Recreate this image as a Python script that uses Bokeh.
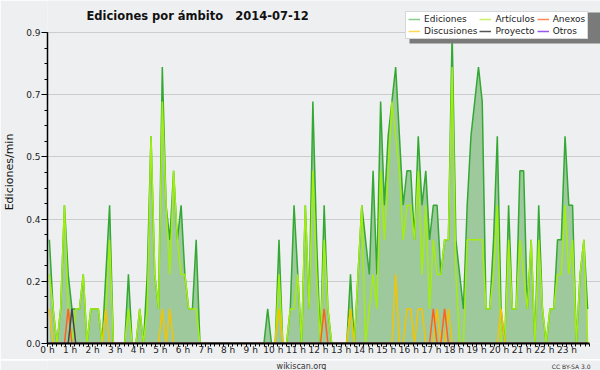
from bokeh.plotting import figure
from bokeh.layouts import column
from bokeh.models import FixedTicker, Label, Legend, LegendItem, BoxAnnotation, Range1d
from bokeh.embed import file_html
from bokeh.resources import INLINE

# ---- data: edits per minute, 10-minute bins over 2014-07-12 (rows = 2 hours) ----
ediciones = [
    0.3, 0.1, 0.0, 0.1, 0.4, 0.2, 0.1, 0.1, 0.1, 0.2, 0.0, 0.1,
    0.1, 0.1, 0.0, 0.2, 0.4, 0.0, 0.0, 0.0, 0.0, 0.2, 0.0, 0.0,
    0.1, 0.0, 0.2, 0.6, 0.2, 0.1, 0.8, 0.4, 0.3, 0.5, 0.3, 0.4,
    0.2, 0.1, 0.1, 0.3, 0.0, 0.0, 0.0, 0.0, 0.0, 0.0, 0.0, 0.0,
    0.0, 0.0, 0.0, 0.0, 0.0, 0.0, 0.0, 0.0, 0.0, 0.0, 0.1, 0.0,
    0.0, 0.3, 0.0, 0.0, 0.1, 0.4, 0.2, 0.0, 0.4, 0.1, 0.7, 0.3,
    0.0, 0.4, 0.1, 0.0, 0.0, 0.0, 0.0, 0.0, 0.2, 0.0, 0.2, 0.4,
    0.3, 0.2, 0.5, 0.2, 0.7, 0.4, 0.6, 0.7, 0.8, 0.6, 0.4, 0.5,
    0.5, 0.3, 0.6, 0.4, 0.5, 0.3, 0.4, 0.4, 0.2, 0.3, 0.3, 0.9,
    0.3, 0.2, 0.1, 0.4, 0.6, 0.7, 0.8, 0.7, 0.1, 0.1, 0.3, 0.6,
    0.1, 0.0, 0.4, 0.1, 0.1, 0.5, 0.5, 0.1, 0.3, 0.0, 0.4, 0.1,
    0.0, 0.1, 0.1, 0.3, 0.3, 0.6, 0.4, 0.4, 0.0, 0.2, 0.3, 0.1,
]
articulos = [
    0.2, 0.1, 0.0, 0.1, 0.4, 0.1, 0.0, 0.1, 0.1, 0.2, 0.0, 0.1,
    0.1, 0.1, 0.0, 0.1, 0.3, 0.0, 0.0, 0.0, 0.0, 0.1, 0.0, 0.0,
    0.1, 0.0, 0.1, 0.6, 0.2, 0.1, 0.7, 0.4, 0.2, 0.5, 0.3, 0.2,
    0.2, 0.1, 0.1, 0.1, 0.0, 0.0, 0.0, 0.0, 0.0, 0.0, 0.0, 0.0,
    0.0, 0.0, 0.0, 0.0, 0.0, 0.0, 0.0, 0.0, 0.0, 0.0, 0.0, 0.0,
    0.0, 0.2, 0.0, 0.0, 0.1, 0.1, 0.2, 0.0, 0.4, 0.1, 0.5, 0.2,
    0.0, 0.3, 0.1, 0.0, 0.0, 0.0, 0.0, 0.0, 0.1, 0.0, 0.2, 0.4,
    0.0, 0.1, 0.2, 0.1, 0.5, 0.3, 0.5, 0.7, 0.6, 0.5, 0.3, 0.4,
    0.4, 0.3, 0.5, 0.2, 0.4, 0.1, 0.3, 0.2, 0.2, 0.3, 0.3, 0.8,
    0.2, 0.0, 0.0, 0.3, 0.3, 0.3, 0.3, 0.3, 0.1, 0.1, 0.2, 0.4,
    0.0, 0.0, 0.3, 0.1, 0.1, 0.3, 0.2, 0.1, 0.3, 0.0, 0.3, 0.1,
    0.0, 0.1, 0.1, 0.2, 0.2, 0.4, 0.2, 0.3, 0.0, 0.2, 0.3, 0.0,
]
discusiones = [
    0.1, 0.0, 0.0, 0.0, 0.0, 0.0, 0.0, 0.0, 0.0, 0.0, 0.0, 0.0,
    0.0, 0.0, 0.0, 0.1, 0.0, 0.0, 0.0, 0.0, 0.0, 0.0, 0.0, 0.0,
    0.0, 0.0, 0.0, 0.0, 0.0, 0.0, 0.1, 0.0, 0.1, 0.0, 0.0, 0.0,
    0.0, 0.0, 0.0, 0.0, 0.0, 0.0, 0.0, 0.0, 0.0, 0.0, 0.0, 0.0,
    0.0, 0.0, 0.0, 0.0, 0.0, 0.0, 0.0, 0.0, 0.0, 0.0, 0.0, 0.0,
    0.0, 0.1, 0.0, 0.0, 0.0, 0.0, 0.0, 0.0, 0.0, 0.0, 0.0, 0.0,
    0.0, 0.0, 0.0, 0.0, 0.0, 0.0, 0.0, 0.0, 0.1, 0.0, 0.0, 0.0,
    0.0, 0.0, 0.0, 0.0, 0.0, 0.0, 0.0, 0.0, 0.2, 0.0, 0.0, 0.1,
    0.1, 0.0, 0.1, 0.1, 0.0, 0.0, 0.0, 0.1, 0.0, 0.0, 0.1, 0.0,
    0.0, 0.0, 0.0, 0.0, 0.0, 0.0, 0.0, 0.0, 0.0, 0.0, 0.0, 0.0,
    0.1, 0.0, 0.0, 0.0, 0.0, 0.0, 0.0, 0.0, 0.0, 0.0, 0.0, 0.0,
    0.0, 0.0, 0.0, 0.0, 0.0, 0.0, 0.0, 0.0, 0.0, 0.0, 0.0, 0.0,
]
anexos = [
    0.0, 0.0, 0.0, 0.0, 0.0, 0.1, 0.0, 0.0, 0.0, 0.0, 0.0, 0.0,
    0.0, 0.0, 0.0, 0.0, 0.0, 0.0, 0.0, 0.0, 0.0, 0.0, 0.0, 0.0,
    0.0, 0.0, 0.0, 0.0, 0.0, 0.0, 0.0, 0.0, 0.0, 0.0, 0.0, 0.0,
    0.0, 0.0, 0.0, 0.0, 0.0, 0.0, 0.0, 0.0, 0.0, 0.0, 0.0, 0.0,
    0.0, 0.0, 0.0, 0.0, 0.0, 0.0, 0.0, 0.0, 0.0, 0.0, 0.0, 0.0,
    0.0, 0.0, 0.0, 0.0, 0.0, 0.0, 0.0, 0.0, 0.0, 0.0, 0.0, 0.0,
    0.0, 0.1, 0.0, 0.0, 0.0, 0.0, 0.0, 0.0, 0.0, 0.0, 0.0, 0.0,
    0.0, 0.0, 0.0, 0.0, 0.0, 0.0, 0.0, 0.0, 0.0, 0.0, 0.0, 0.0,
    0.0, 0.0, 0.0, 0.0, 0.0, 0.0, 0.1, 0.0, 0.0, 0.1, 0.0, 0.0,
    0.0, 0.0, 0.0, 0.0, 0.0, 0.0, 0.0, 0.0, 0.0, 0.0, 0.0, 0.0,
    0.0, 0.0, 0.0, 0.0, 0.0, 0.0, 0.0, 0.0, 0.0, 0.0, 0.0, 0.0,
    0.0, 0.0, 0.0, 0.0, 0.0, 0.0, 0.0, 0.0, 0.0, 0.0, 0.0, 0.0,
]
proyecto = [
    0.0, 0.0, 0.0, 0.0, 0.0, 0.0, 0.1, 0.0, 0.0, 0.0, 0.0, 0.0,
    0.0, 0.0, 0.0, 0.0, 0.0, 0.0, 0.0, 0.0, 0.0, 0.0, 0.0, 0.0,
    0.0, 0.0, 0.0, 0.0, 0.0, 0.0, 0.0, 0.0, 0.0, 0.0, 0.0, 0.0,
    0.0, 0.0, 0.0, 0.0, 0.0, 0.0, 0.0, 0.0, 0.0, 0.0, 0.0, 0.0,
    0.0, 0.0, 0.0, 0.0, 0.0, 0.0, 0.0, 0.0, 0.0, 0.0, 0.0, 0.0,
    0.0, 0.0, 0.0, 0.0, 0.0, 0.0, 0.0, 0.0, 0.0, 0.0, 0.0, 0.0,
    0.0, 0.0, 0.0, 0.0, 0.0, 0.0, 0.0, 0.0, 0.0, 0.0, 0.0, 0.0,
    0.0, 0.0, 0.0, 0.0, 0.0, 0.0, 0.0, 0.0, 0.0, 0.0, 0.0, 0.0,
    0.0, 0.0, 0.0, 0.0, 0.0, 0.0, 0.0, 0.0, 0.0, 0.0, 0.0, 0.0,
    0.0, 0.0, 0.0, 0.0, 0.0, 0.0, 0.0, 0.0, 0.0, 0.0, 0.0, 0.0,
    0.0, 0.0, 0.0, 0.0, 0.0, 0.0, 0.0, 0.0, 0.0, 0.0, 0.0, 0.0,
    0.0, 0.0, 0.0, 0.0, 0.0, 0.0, 0.0, 0.0, 0.0, 0.0, 0.0, 0.0,
]
otros = [
    0.0, 0.0, 0.0, 0.0, 0.0, 0.0, 0.0, 0.0, 0.0, 0.0, 0.0, 0.0,
    0.0, 0.0, 0.0, 0.0, 0.0, 0.0, 0.0, 0.0, 0.0, 0.0, 0.0, 0.0,
    0.0, 0.0, 0.0, 0.0, 0.0, 0.0, 0.0, 0.0, 0.0, 0.0, 0.0, 0.0,
    0.0, 0.0, 0.0, 0.0, 0.0, 0.0, 0.0, 0.0, 0.0, 0.0, 0.0, 0.0,
    0.0, 0.0, 0.0, 0.0, 0.0, 0.0, 0.0, 0.0, 0.0, 0.0, 0.0, 0.0,
    0.0, 0.0, 0.0, 0.0, 0.0, 0.0, 0.0, 0.0, 0.0, 0.0, 0.0, 0.0,
    0.0, 0.0, 0.0, 0.0, 0.0, 0.0, 0.0, 0.0, 0.0, 0.0, 0.0, 0.0,
    0.0, 0.0, 0.0, 0.0, 0.0, 0.0, 0.0, 0.0, 0.0, 0.0, 0.0, 0.0,
    0.0, 0.0, 0.0, 0.0, 0.0, 0.0, 0.0, 0.0, 0.0, 0.0, 0.0, 0.0,
    0.0, 0.0, 0.0, 0.0, 0.0, 0.0, 0.0, 0.0, 0.0, 0.0, 0.0, 0.0,
    0.0, 0.0, 0.0, 0.0, 0.0, 0.0, 0.0, 0.0, 0.0, 0.0, 0.0, 0.0,
    0.0, 0.0, 0.0, 0.0, 0.0, 0.0, 0.0, 0.0, 0.0, 0.0, 0.0, 0.0,
]
# bin centres in hours (10-minute bins)
horas = [(10 * i + 5) / 60 for i in range(len(ediciones))]

hour_ticks = list(range(24))
hour_labels = [f"{h} h" for h in hour_ticks]
y_ticks = [0.0, 0.18, 0.36, 0.54, 0.72, 0.9]
y_labels = ["0.0", "0.2", "0.4", "0.5", "0.7", "0.9"]

FONT = "DejaVu Sans"
BG = "#eeeff1"

# ---- geometry (page pixels) ----
W = 600
H_MAIN = 359
H_FOOT = 370 - H_MAIN
FRAME_L, FRAME_B = 46, 343          # frame spans x 46..600, y 0..343
X0_PX, X24_PX = 46, 589             # where 0 h and 24 h sit
Y0_PX, Y09_PX = 343, 32             # where 0.0 and 0.9 sit
x_end = 24 * (W - X0_PX) / (X24_PX - X0_PX)
y_end = 0.9 * (Y0_PX - 0) / (Y0_PX - Y09_PX)

def sx(px):
    return px - FRAME_L

def sy(py):
    return FRAME_B - py

p = figure(width=W, height=H_MAIN, output_backend="svg", toolbar_location=None,
           title=None, x_range=Range1d(0, x_end), y_range=Range1d(0, y_end),
           min_border_left=FRAME_L, min_border_right=0,
           min_border_top=0, min_border_bottom=H_MAIN - FRAME_B,
           background_fill_color=BG, border_fill_color=BG,
           outline_line_color=None)

# fill + lines
p.varea(x=horas, y1=0, y2=ediciones, fill_color="#9ec99c", fill_alpha=1.0)
p.line(horas, ediciones, line_color="#33a833", line_width=1.5)
p.line(horas, articulos, line_color="#a2ee10", line_width=1.5)
p.line(horas, discusiones, line_color="#f5c400", line_width=1.5)
p.line(horas, anexos, line_color="#ff6020", line_width=1.5)
p.line(horas, proyecto, line_color="#444444", line_width=1.5)
p.line(horas, otros, line_color="#8844ee", line_width=1.5)

# axes
xa = p.xaxis[0]
xa.bounds = (0, 24)
xa.ticker = FixedTicker(ticks=hour_ticks, minor_ticks=[k / 5 for k in range(121)])
xa.major_label_overrides = dict(zip(hour_ticks, hour_labels))
xa.major_tick_out = 3
xa.major_tick_in = 0
xa.minor_tick_out = 3
xa.minor_tick_in = 0
xa.axis_line_width = 2
xa.axis_line_color = "black"
xa.major_tick_line_color = "black"
xa.minor_tick_line_color = "black"
xa.major_label_text_font = FONT
xa.major_label_text_font_size = "9px"
xa.major_label_text_color = "#222222"
xa.major_label_standoff = -2

ya = p.yaxis[0]
ya.bounds = (0, 0.9)
ya.ticker = FixedTicker(ticks=y_ticks, minor_ticks=[k * 0.045 for k in range(21)])
ya.major_label_overrides = dict(zip(y_ticks, y_labels))
ya.major_tick_out = 6
ya.major_tick_in = 0
ya.minor_tick_out = 3
ya.minor_tick_in = 0
ya.axis_line_width = 1.5
ya.axis_line_color = "black"
ya.major_tick_line_color = "black"
ya.minor_tick_line_color = "black"
ya.major_label_text_font = FONT
ya.major_label_text_font_size = "9px"
ya.major_label_text_color = "#222222"
ya.major_label_standoff = 1
ya.axis_label = "Ediciones/min"
ya.axis_label_text_font = FONT
ya.axis_label_text_font_size = "11px"
ya.axis_label_text_font_style = "normal"
ya.axis_label_text_color = "#111111"
ya.axis_label_standoff = 7

p.xgrid.visible = False
p.ygrid.ticker = FixedTicker(ticks=y_ticks)
p.ygrid.grid_line_color = "#cccccc"
p.ygrid.grid_line_width = 1

# title (no-break spaces keep the wide gap before the date)
p.add_layout(Label(x=sx(85), y=sy(8), x_units="screen", y_units="screen",
                   text="Ediciones por ámbito\u00a0\u00a0 2014-07-12", text_font=FONT,
                   text_font_size="11.5px", text_font_style="bold",
                   text_baseline="top", text_color="#111111"))

# legend swatches (one-point lines: nothing drawn in the plot)
def swatch(color):
    return p.line(x=horas[:1], y=ediciones[:1], line_color=color, line_width=1.5)

le = swatch("#88cc88")
la = swatch("#ccee66")
lx = swatch("#ff8855")
ld = swatch("#ffd955")
lp = swatch("#555555")
lo = swatch("#9955ee")

shadow = BoxAnnotation(left=sx(408), right=sx(600), top=sy(12), bottom=sy(43),
                       left_units="screen", right_units="screen",
                       top_units="screen", bottom_units="screen",
                       fill_color="#7a7a7a", fill_alpha=1.0, line_color=None)
p.add_layout(shadow)

legend = Legend(items=[
    LegendItem(label="Ediciones", renderers=[le]),
    LegendItem(label="Discusiones", renderers=[ld]),
    LegendItem(label="Artículos", renderers=[la]),
    LegendItem(label="Proyecto", renderers=[lp]),
    LegendItem(label="Anexos", renderers=[lx]),
    LegendItem(label="Otros", renderers=[lo]),
], location=(sx(404), sy(39)), orientation="vertical", nrows=2)
legend.label_text_font = FONT
legend.label_text_font_size = "9px"
legend.label_text_color = "#222222"
legend.label_height = 10
legend.glyph_height = 10
legend.glyph_width = 12
legend.label_standoff = 4
legend.spacing = 2
legend.padding = 2
legend.margin = 0
legend.background_fill_color = "white"
legend.background_fill_alpha = 1.0
legend.border_line_color = "#b0b0b0"
legend.border_line_width = 1
p.add_layout(legend)

# footer with the credits
foot = figure(width=W, height=H_FOOT, output_backend="svg", toolbar_location=None,
              title=None, x_range=Range1d(0, 1), y_range=Range1d(0, 1),
              x_axis_location=None, y_axis_location=None,
              min_border_left=FRAME_L, min_border_right=0,
              min_border_top=0, min_border_bottom=0,
              background_fill_color=BG, border_fill_color=BG, outline_line_color=None)
foot.xgrid.visible = False
foot.ygrid.visible = False
foot.add_layout(Label(x=sx(300), y=5, x_units="screen", y_units="screen",
                      text="wikiscan.org", text_font=FONT, text_font_size="8px",
                      text_align="center", text_baseline="alphabetic", text_color="#333333"))
foot.add_layout(Label(x=sx(589), y=5, x_units="screen", y_units="screen",
                      text="CC BY-SA 3.0", text_font=FONT, text_font_size="6px",
                      text_align="right", text_baseline="alphabetic", text_color="#333333"))

layout = column(p, foot, spacing=0)
open("out.html", "w").write(file_html(layout, INLINE))
